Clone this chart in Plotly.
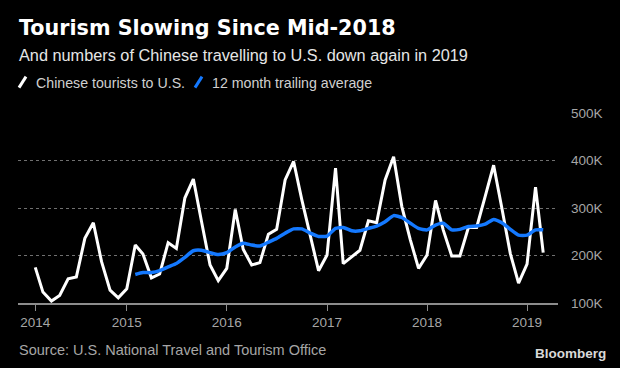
import pandas as pd
import plotly.graph_objects as go

# Monthly Chinese tourists to U.S. (thousands), Feb 2014 - Mar 2019
tourists_k = [
    175, 123, 104, 116, 151, 155, 236, 269, 187, 127, 111,            # 2014 Feb-Dec
    130, 222, 203, 153, 161, 227, 215, 321, 361, 271, 180, 147,       # 2015
    173, 297, 213, 180, 185, 245, 255, 359, 398, 317, 243, 168,       # 2016
    201, 384, 183, 197, 211, 273, 269, 359, 408, 303, 233, 173,       # 2017
    201, 316, 254, 199, 199, 259, 259, 324, 390, 300, 204, 142,       # 2018
    182, 344, 206,                                                    # 2019 Jan-Mar
]
# 12 month trailing average (thousands), Feb 2015 - Mar 2019
trailing_k = [
    160, 164, 164, 168, 176, 183, 196, 210, 211, 206, 202,            # 2015 Feb-Dec
    206, 218, 226, 222, 220, 228, 236, 247, 256, 256, 247, 240,       # 2016
    241, 257, 259, 252, 252, 257, 262, 271, 284, 280, 268, 257,       # 2017
    254, 264, 268, 254, 255, 261, 262, 266, 276, 269, 255, 243,       # 2018
    243, 254, 254,                                                    # 2019
]
tourist_dates = pd.date_range("2014-02-01", periods=len(tourists_k), freq="MS")
trailing_dates = pd.date_range("2015-02-01", periods=len(trailing_k), freq="MS")

year_tick_dates = ["2014-02-01", "2015-01-01", "2016-01-01", "2017-01-01", "2018-01-01", "2019-01-01"]
year_tick_labels = ["2014", "2015", "2016", "2017", "2018", "2019"]
y_tick_vals = [100000, 200000, 300000, 400000, 500000]
y_tick_labels = ["100K", "200K", "300K", "400K", "500K"]

title = "Tourism Slowing Since Mid-2018"
subtitle = "And numbers of Chinese travelling to U.S. down again in 2019"
legend_labels = ["Chinese tourists to U.S.", "12 month trailing average"]
source = "Source: U.S. National Travel and Tourism Office"

W, H = 620, 368
L, R, T, B = 18, 558, 113.3, 302.7
WHITE = "#ffffff"
BLUE = "#1479ff"
GRAY = "#a6a6a6"
FONT = "Liberation Sans, Arial, sans-serif"


def px(x):
    return (x - L) / (R - L)


def py(y):
    return (B - y) / (B - T)


fig = go.Figure()
fig.add_trace(go.Scatter(
    x=tourist_dates, y=[v * 1000 for v in tourists_k], mode="lines",
    line=dict(color=WHITE, width=3), name=legend_labels[0],
))
fig.add_trace(go.Scatter(
    x=trailing_dates, y=[v * 1000 for v in trailing_k], mode="lines",
    line=dict(color=BLUE, width=3.5, shape="spline", smoothing=0.5), name=legend_labels[1],
))

annotations = [
    dict(text="<b>" + title + "</b>", x=px(17), y=py(29), xanchor="left", yanchor="middle",
         font=dict(family="DejaVu Sans, sans-serif", size=20.7, color=WHITE)),
    dict(text=subtitle, x=px(17), y=py(55), xanchor="left", yanchor="middle",
         font=dict(family=FONT, size=16.3, color="#e6e6e6")),
    dict(text=legend_labels[0], x=px(34), y=py(83), xanchor="left", yanchor="middle",
         font=dict(family=FONT, size=14.2, color="#d0d0d0")),
    dict(text=legend_labels[1], x=px(210), y=py(83), xanchor="left", yanchor="middle",
         font=dict(family=FONT, size=14.2, color="#d0d0d0")),
    dict(text=source, x=px(17), y=py(350), xanchor="left", yanchor="middle",
         font=dict(family=FONT, size=14.5, color=GRAY)),
    dict(text="<b>Bloomberg</b>", x=px(608), y=py(353), xanchor="right", yanchor="middle",
         font=dict(family=FONT, size=13.5, color="#d9d9d9")),
]
for a in annotations:
    a.update(xref="paper", yref="paper", showarrow=False)

shapes = [
    dict(type="line", xref="paper", yref="paper", x0=px(19), y0=py(88), x1=px(26), y1=py(77),
         line=dict(color=WHITE, width=3)),
    dict(type="line", xref="paper", yref="paper", x0=px(195), y0=py(88), x1=px(202), y1=py(77),
         line=dict(color=BLUE, width=3)),
]

fig.update_layout(
    width=W, height=H,
    margin=dict(l=L, r=W - R, t=T, b=H - B),
    paper_bgcolor="#000000", plot_bgcolor="#000000",
    showlegend=False,
    annotations=annotations,
    shapes=shapes,
    font=dict(family=FONT, color=GRAY),
    xaxis=dict(
        type="date", range=["2013-11-30", "2019-04-24"],
        tickvals=year_tick_dates, ticktext=year_tick_labels,
        showgrid=False, zeroline=False,
        showline=True, linecolor="#8c8c8c", linewidth=1.5,
        ticks="outside", ticklen=6, tickcolor="#8c8c8c", tickwidth=1,
        tickfont=dict(family=FONT, size=13.5, color=GRAY),
        fixedrange=True,
    ),
    yaxis=dict(
        side="right", range=[100000, 500000],
        tickvals=y_tick_vals, ticktext=y_tick_labels,
        showgrid=True, gridcolor="#707070", griddash="dot", gridwidth=1,
        zeroline=False, showline=False, ticks="",
        ticklabelstandoff=12,
        tickfont=dict(family=FONT, size=13.5, color=GRAY),
        fixedrange=True,
    ),
)

fig.write_html(
    "out.html",
    config={"displayModeBar": False},
    post_script="document.body.style.margin='0';document.body.style.background='#000';",
)
